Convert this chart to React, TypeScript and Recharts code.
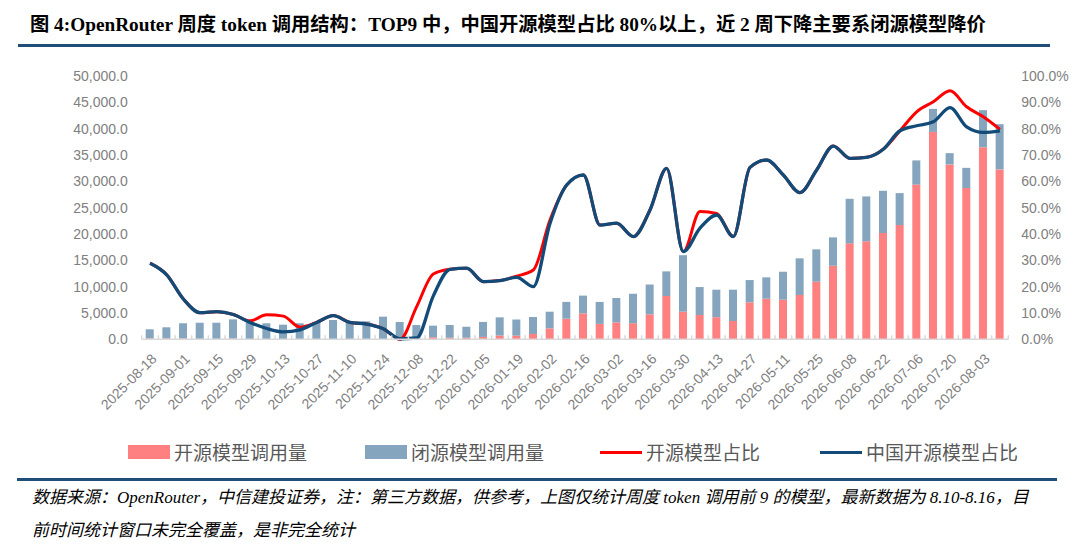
import React from 'react';
import { ComposedChart, Bar, Line, XAxis, YAxis } from 'recharts';

const dates = [
  '2025-08-18', '2025-08-25', '2025-09-01', '2025-09-08', '2025-09-15', '2025-09-22', '2025-09-29',
  '2025-10-06', '2025-10-13', '2025-10-20', '2025-10-27', '2025-11-03', '2025-11-10', '2025-11-17',
  '2025-11-24', '2025-12-01', '2025-12-08', '2025-12-15', '2025-12-22', '2025-12-29', '2026-01-05',
  '2026-01-12', '2026-01-19', '2026-01-26', '2026-02-02', '2026-02-09', '2026-02-16', '2026-02-23',
  '2026-03-02', '2026-03-09', '2026-03-16', '2026-03-23', '2026-03-30', '2026-04-06', '2026-04-13',
  '2026-04-20', '2026-04-27', '2026-05-04', '2026-05-11', '2026-05-18', '2026-05-25', '2026-06-01',
  '2026-06-08', '2026-06-15', '2026-06-22', '2026-06-29', '2026-07-06', '2026-07-13', '2026-07-20',
  '2026-07-27', '2026-08-03', '2026-08-10',
];

// 开源模型调用量
const openVol = [
  150, 150, 150, 80, 80, 150, 60, 50, 50, 50, 60, 60, 60, 50, 60, 60, 150, 380, 300, 300,
  450, 720, 690, 1000, 2080, 3910, 4930, 2930, 3220, 3060, 4740, 8220, 5240, 4610, 4200, 3470,
  7020, 7710, 7520, 8410, 10930, 13970, 18220, 18600, 20170, 21690, 29380, 39390, 33210, 28710,
  36490, 32260,
];

// 闭源模型调用量
const closedVol = [
  1750, 2130, 2890, 3070, 3070, 3640, 3090, 2990, 2730, 2990, 3220, 3600, 3220, 3360, 4240, 3220,
  2560, 2210, 2410, 2080, 2850, 3450, 3070, 3230, 3160, 3190, 3370, 4170, 4620, 5590, 5660, 4680,
  10730, 5310, 5220, 5950, 4230, 4050, 5310, 6960, 6150, 5380, 8460, 8530, 8030, 6070, 4590, 4370,
  2140, 3850, 7020, 8590,
];

// 开源模型占比 (%)
const openShare = [
  28.9, 24.5, 15.3, 10.1, 10.5, 9.4, 7.0, 9.3, 8.8, 4.6, 6.4, 9.0, 6.4, 5.8, 4.0, 0.0,
  12.4, 24.8, 26.6, 27.0, 21.9, 22.3, 24.0, 26.3, 45.3, 58.6, 62.4, 43.4, 44.1, 39.0, 49.1, 64.9,
  33.3, 48.5, 47.8, 39.0, 65.3, 68.1, 62.4, 55.7, 64.3, 73.4, 68.7, 69.1, 72.2, 79.2, 86.4, 90.2,
  94.4, 88.3, 84.5, 79.7,
];

// 中国开源模型占比 (%)
const cnOpenShare = [
  28.9, 24.5, 15.3, 10.1, 10.5, 9.4, 6.4, 4.1, 2.8, 3.6, 6.4, 9.0, 6.4, 5.8, 4.0, 0.2,
  0.5, 16.5, 26.6, 27.0, 21.9, 22.3, 23.5, 20.0, 44.0, 58.6, 62.4, 43.4, 44.1, 39.0, 49.1, 64.9,
  33.3, 42.2, 47.2, 39.0, 65.3, 68.1, 62.4, 55.7, 64.3, 73.4, 68.7, 69.1, 72.2, 79.2, 81.1, 82.6,
  88.0, 80.7, 78.6, 79.2,
];

const leftTicks = [0, 5000, 10000, 15000, 20000, 25000, 30000, 35000, 40000, 45000, 50000];
const rightTicks = [0, 10, 20, 30, 40, 50, 60, 70, 80, 90, 100];

const series = [
  { key: 'open', name: '开源模型调用量', color: '#ff8080', kind: 'bar' },
  { key: 'closed', name: '闭源模型调用量', color: '#84a5bd', kind: 'bar' },
  { key: 'openShare', name: '开源模型占比', color: '#ff0000', kind: 'line' },
  { key: 'cnOpenShare', name: '中国开源模型占比', color: '#124a78', kind: 'line' },
];

const data = dates.map((d, i) => ({
  date: d,
  open: openVol[i],
  closed: closedVol[i],
  openShare: openShare[i],
  cnOpenShare: cnOpenShare[i],
}));

const CHART_W = 1080;
const CHART_H = 551;
const LEFT_W = 141.7;
const RIGHT_W = 71.7;
const TOP = 76;
const XAXIS_H = 211.7;
const BAND = (CHART_W - LEFT_W - RIGHT_W) / dates.length;

const tickFont = '"Liberation Sans", Arial, sans-serif';
const grey = '#808080';

const XTick = (props: any) => {
  const { x, y, index, payload } = props;
  const half = BAND / 2;
  return (
    <g>
      <line x1={x - half} x2={x - half} y1={y - 4} y2={y} stroke="#d9d9d9" strokeWidth={1.5} />
      {index === dates.length - 1 && (
        <line x1={x + half} x2={x + half} y1={y - 4} y2={y} stroke="#d9d9d9" strokeWidth={1.5} />
      )}
      {index % 2 === 0 && (
        <text
          x={0}
          y={0}
          dy="0.35em"
          transform={`translate(${x + 4},${y + 17}) rotate(-45)`}
          textAnchor="end"
          fill={grey}
          fontSize={14}
          fontFamily={tickFont}
        >
          {payload.value}
        </text>
      )}
    </g>
  );
};

const legendPos = [128, 365, 600, 820];

export default function App() {
  return (
    <div
      style={{
        position: 'relative',
        width: CHART_W,
        height: CHART_H,
        margin: -8,
        overflow: 'hidden',
        background: '#ffffff',
      }}
    >
      <div
        style={{
          position: 'absolute',
          left: 30,
          top: 13,
          fontSize: 19.3,
          lineHeight: '24px',
          fontWeight: 700,
          color: '#000',
          whiteSpace: 'nowrap',
          fontFamily: '"Liberation Serif", "Noto Sans CJK SC", serif',
        }}
      >
        图 4:OpenRouter 周度 token 调用结构：TOP9 中，中国开源模型占比 80%以上，近 2 周下降主要系闭源模型降价
      </div>
      <div style={{ position: 'absolute', left: 18, top: 44, width: 1032, height: 3, background: '#1f4e79' }} />

      <div style={{ position: 'absolute', left: 0, top: 0 }}>
        <ComposedChart
          width={CHART_W}
          height={CHART_H}
          data={data}
          margin={{ top: TOP, right: 0, bottom: 0, left: 0 }}
          barGap={0}
        >
          <XAxis
            dataKey="date"
            height={XAXIS_H}
            interval={0}
            tickLine={false}
            tickSize={0}
            tickMargin={0}
            axisLine={{ stroke: '#d9d9d9', strokeWidth: 1.5 }}
            tick={<XTick />}
          />
          <YAxis
            yAxisId="left"
            orientation="left"
            width={LEFT_W}
            domain={[0, 50000]}
            ticks={leftTicks}
            interval={0}
            axisLine={false}
            tickLine={false}
            tickSize={0}
            tickMargin={14}
            tick={{ fill: grey, fontSize: 14, fontFamily: tickFont }}
            tickFormatter={(v: number) =>
              v.toLocaleString('en-US', { minimumFractionDigits: 1, maximumFractionDigits: 1 })
            }
          />
          <YAxis
            yAxisId="right"
            orientation="right"
            width={RIGHT_W}
            domain={[0, 100]}
            ticks={rightTicks}
            interval={0}
            axisLine={false}
            tickLine={false}
            tickSize={0}
            tickMargin={13}
            tick={{ fill: grey, fontSize: 14, fontFamily: tickFont, textAnchor: 'start' }}
            tickFormatter={(v: number) => `${v.toFixed(1)}%`}
          />
          <Bar
            yAxisId="left"
            dataKey="open"
            name={series[0].name}
            stackId="vol"
            fill={series[0].color}
            barSize={8}
            isAnimationActive={false}
          />
          <Bar
            yAxisId="left"
            dataKey="closed"
            name={series[1].name}
            stackId="vol"
            fill={series[1].color}
            barSize={8}
            isAnimationActive={false}
          />
          <Line
            yAxisId="right"
            dataKey="openShare"
            name={series[2].name}
            type="monotone"
            stroke={series[2].color}
            strokeWidth={3}
            dot={false}
            activeDot={false}
            isAnimationActive={false}
          />
          <Line
            yAxisId="right"
            dataKey="cnOpenShare"
            name={series[3].name}
            type="monotone"
            stroke={series[3].color}
            strokeWidth={3.3}
            dot={false}
            activeDot={false}
            isAnimationActive={false}
          />
        </ComposedChart>
      </div>

      {series.map((s, i) => (
        <div
          key={s.key}
          style={{
            position: 'absolute',
            left: legendPos[i],
            top: 440,
            height: 24,
            display: 'flex',
            alignItems: 'center',
            whiteSpace: 'nowrap',
          }}
        >
          <div
            style={{
              width: 42,
              height: s.kind === 'bar' ? 14 : 3,
              background: s.color,
              marginRight: 4,
            }}
          />
          <span
            style={{
              fontSize: 19,
              color: '#595959',
              fontFamily: '"Noto Sans CJK SC", sans-serif',
              lineHeight: '24px',
            }}
          >
            {s.name}
          </span>
        </div>
      ))}

      <div style={{ position: 'absolute', left: 17, top: 478, width: 1040, height: 2.5, background: '#1f4e79' }} />

      <div
        style={{
          position: 'absolute',
          left: 32,
          top: 481,
          fontSize: 17,
          lineHeight: '33px',
          fontStyle: 'italic',
          color: '#000',
          whiteSpace: 'nowrap',
          fontFamily: '"Liberation Serif", "Noto Sans CJK SC", serif',
        }}
      >
        <div>数据来源：OpenRouter，中信建投证券，注：第三方数据，供参考，上图仅统计周度 token 调用前 9 的模型，最新数据为 8.10-8.16，目</div>
        <div>前时间统计窗口未完全覆盖，是非完全统计</div>
      </div>
    </div>
  );
}
